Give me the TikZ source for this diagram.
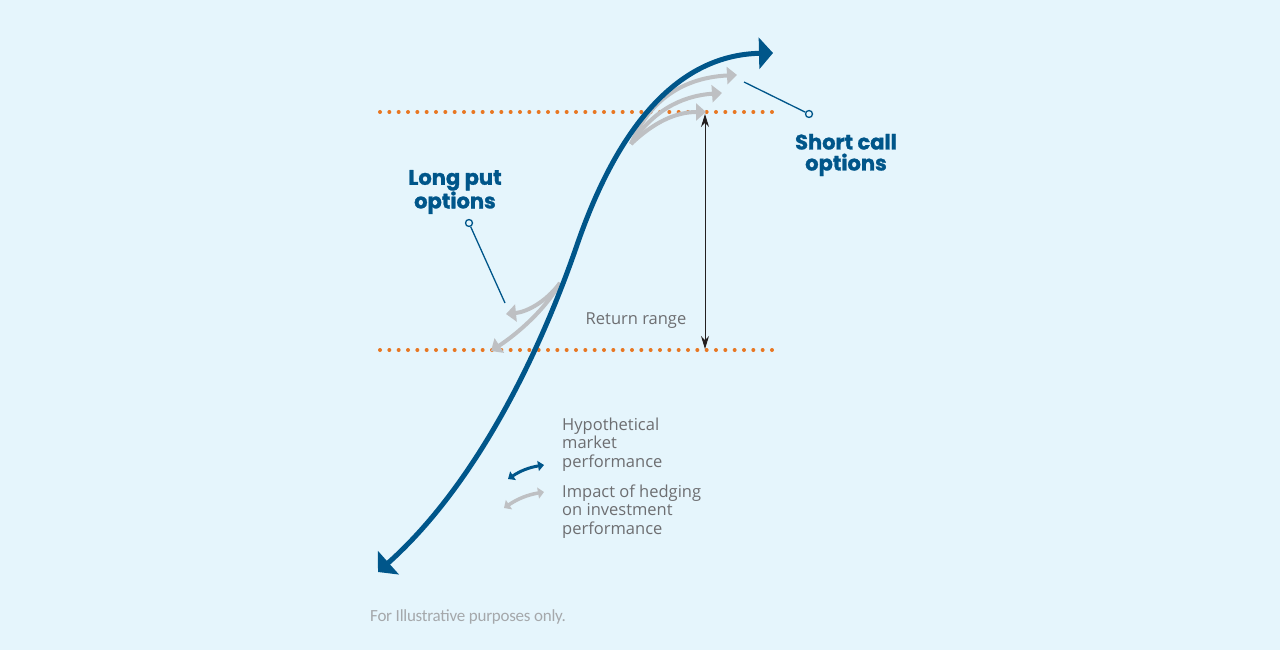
\documentclass[tikz,border=0pt]{standalone}
\usepackage{fontspec}
\setmainfont{Open Sans}
\newfontfamily\labfont[BoldFeatures={FakeBold=1.2}]{Poppins}
\newfontfamily\notefont[LetterSpace=-1.5]{Carlito}
\usetikzlibrary{arrows.meta}
\definecolor{bg}{HTML}{E5F5FC}
\definecolor{navy}{HTML}{00568A}
\definecolor{hedge}{HTML}{BEC0C3}
\definecolor{dotor}{HTML}{E87722}
\definecolor{txtgray}{HTML}{6D6E71}
\definecolor{notegray}{HTML}{A5A8AB}
\definecolor{rngblack}{HTML}{231F20}
\tikzset{
  market/.style={draw=navy, line width=5pt, {Triangle[length=14pt,width=31pt]}-{Triangle[length=14pt,width=31pt]}},
  hedgearrow/.style={draw=hedge, line width=4pt, -{Triangle[length=10pt,width=17pt]}},
  dotline/.style={draw=dotor, line width=4pt, line cap=round, dash pattern=on 0pt off 9.333pt},
  leader/.style={draw=navy, line width=1.3pt},
  leaderdot/.style={circle, draw=navy, fill=bg, line width=1.3pt, minimum size=7pt, inner sep=0pt},
  biglabel/.style={font=\labfont\bfseries\fontsize{21}{21}\selectfont, text=navy, align=center, inner sep=0pt},
  smalltext/.style={font=\fontsize{16.5}{18.5}\selectfont, text=txtgray, align=left, inner sep=0pt},
  rangearrow/.style={draw=rngblack, line width=1pt, {Stealth[length=13pt,width=8pt]}-{Stealth[length=13pt,width=8pt]}},
}
\begin{document}
\begin{tikzpicture}[x=1pt,y=-1pt]
\fill[bg] (0,0) rectangle (1280,650);
\useasboundingbox (0,0) rectangle (1280,650);

% dotted limits
\coordinate (topL) at (380,112);
\coordinate (topR) at (772,112);
\coordinate (botL) at (380,350);
\coordinate (botR) at (772,350);
\draw[dotline] (topL) -- (topR);
\draw[dotline] (botL) -- (botR);

% hedging arrows (behind main curve)
\coordinate (hs1) at (631,144);
\coordinate (ht1) at (737,75);
\coordinate (ht2) at (722,93);
\coordinate (ht3) at (706,112);
\draw[hedgearrow] (hs1) .. controls (647,106) and (677,78) .. (ht1);
\draw[hedgearrow] (hs1) .. controls (652,112) and (680,96) .. (ht2);
\draw[hedgearrow] (hs1) .. controls (654,122) and (676,112) .. (ht3);

\coordinate (hs2) at (560,283);
\coordinate (ht4) at (506,314);
\coordinate (ht5) at (491,351);
\draw[hedgearrow] (hs2) .. controls (545,303) and (526,312) .. (ht4);
\draw[hedgearrow] (hs2) .. controls (545,310) and (517,334) .. (ht5);

% market curve
\coordinate (mBot) at (378,572);
\coordinate (mMid) at (577,245);
\coordinate (mTop) at (773,53);
\draw[market] (mBot) .. controls (470,490) and (535,367) .. (mMid)
  .. controls (619,123) and (680,55) .. (mTop);

% return range
\coordinate (rTop) at (705,114);
\coordinate (rBot) at (705,349);
\draw[rangearrow] (rTop) -- (rBot);
\node[smalltext] (rlabel) at (636,321) {Return range};

% labels
\node[biglabel] (shortcall) at (846,155) {Short call\\options};
\node[leaderdot] (scdot) at (809,114) {};
\coordinate (scend) at (744,82);
\draw[leader] (scdot) -- (scend);

\node[biglabel] (longput) at (455,192) {Long put\\options};
\node[leaderdot] (lpdot) at (469,223) {};
\coordinate (lpend) at (505,303);
\draw[leader] (lpdot) -- (lpend);

% legend
\coordinate (lgA1) at (508,479);
\coordinate (lgA2) at (544,465);
\draw[draw=navy, line width=3pt, {Triangle[length=6pt,width=10pt]}-{Triangle[length=6pt,width=10pt]}] (lgA1) to[bend left=12] (lgA2);
\coordinate (lgB1) at (504,508);
\coordinate (lgB2) at (544,492);
\draw[draw=hedge, line width=3.5pt, {Triangle[length=6pt,width=11pt]}-{Triangle[length=6pt,width=11pt]}] (lgB1) to[bend left=12] (lgB2);
\node[smalltext, anchor=north west] (lgtextA) at (562,417.5) {Hypothetical\\market\\performance};
\node[smalltext, anchor=north west] (lgtextB) at (562,484.5) {Impact of hedging\\on investment\\performance};

% footnote
\node[font=\notefont\fontsize{17}{19}\selectfont, text=notegray, anchor=base west, inner sep=0pt] (note) at (370,621) {For Illustrative purposes only.};
\end{tikzpicture}
\end{document}
